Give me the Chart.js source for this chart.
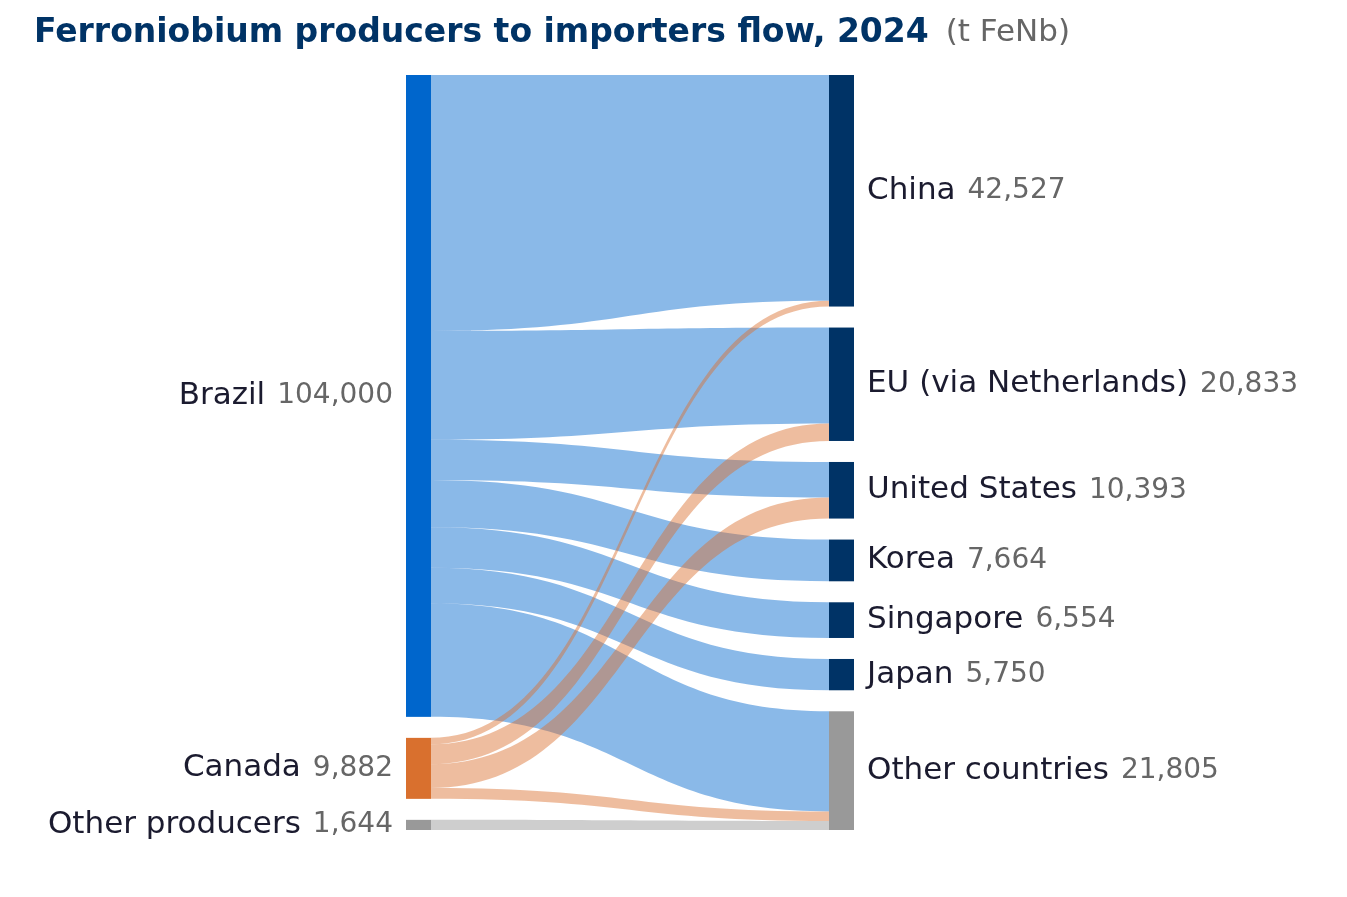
<!DOCTYPE html>
<html>
<head>
<meta charset="utf-8">
<script src="https://cdn.jsdelivr.net/npm/chart.js@4.4.1/dist/chart.umd.min.js"></script>
<style>
  body { margin: 0; background: #fff; }
</style>
</head>
<body>
<canvas id="chart" width="1347" height="897"></canvas>
<script>
const producers = ['Brazil', 'Canada', 'Other producers'];
const producerTotals = [104000, 9882, 1644];
const importers = ['China', 'EU (via Netherlands)', 'United States', 'Korea', 'Singapore', 'Japan', 'Other countries'];
const importerTotals = [42527, 20833, 10393, 7664, 6554, 5750, 21805];
// tonnes from each producer, in importer order
const fromBrazil = [41467, 17633, 6523, 7664, 6554, 5750, 18409];
const fromCanada = [1060, 3200, 3870, 0, 0, 0, 1752];
const fromOther = [0, 0, 0, 0, 0, 0, 1644];
const flows = [fromBrazil, fromCanada, fromOther];

const producerColors = ['#0066CC', '#D9702E', '#999999'];
const flowColors = ['rgba(0,102,204,0.46)', 'rgba(217,112,46,0.46)', 'rgba(153,153,153,0.48)'];
const importerColors = ['#003366', '#003366', '#003366', '#003366', '#003366', '#003366', '#999999'];

const sum = a => a.reduce((s, v) => s + v, 0);
const gapShare = 21 / 755;
const maxL = sum(producerTotals) / (1 - (producers.length - 1) * gapShare);
const maxR = sum(importerTotals) / (1 - (importers.length - 1) * gapShare);

function stackTops(totals, max) {
    const tops = [];
    let y = 0;
    totals.forEach(v => { tops.push(y); y += v + gapShare * max; });
    return tops;
}

const fmt = v => v.toLocaleString('en-US');
const labelFont = '31px "DejaVu Sans"';
const valueFont = '28px "DejaVu Sans"';

const sankeyPlugin = {
    id: 'sankey',
    afterDraw(chart) {
        const ctx = chart.ctx;
        const x = chart.scales.x, yL = chart.scales.yL, yR = chart.scales.yR;
        const nodeW = 25;
        const xL = x.getPixelForValue(0), xR = x.getPixelForValue(1);
        const topsL = stackTops(producerTotals, maxL);
        const topsR = stackTops(importerTotals, maxR);
        const outOff = topsL.slice();
        const inOff = topsR.slice();
        const x0 = xL + nodeW, x1 = xR - nodeW, mid = (x0 + x1) / 2;

        ctx.save();
        flows.forEach((row, i) => {
            row.forEach((v, j) => {
                if (!v) return;
                const a0 = yL.getPixelForValue(outOff[i]), a1 = yL.getPixelForValue(outOff[i] + v);
                const b0 = yR.getPixelForValue(inOff[j]), b1 = yR.getPixelForValue(inOff[j] + v);
                outOff[i] += v;
                inOff[j] += v;
                ctx.beginPath();
                ctx.moveTo(x0, a0);
                ctx.bezierCurveTo(mid, a0, mid, b0, x1, b0);
                ctx.lineTo(x1, b1);
                ctx.bezierCurveTo(mid, b1, mid, a1, x0, a1);
                ctx.closePath();
                ctx.fillStyle = flowColors[i];
                ctx.fill();
            });
        });

        // nodes + labels
        ctx.textBaseline = 'middle';
        producers.forEach((name, i) => {
            const t = yL.getPixelForValue(topsL[i]), b = yL.getPixelForValue(topsL[i] + producerTotals[i]);
            ctx.fillStyle = producerColors[i];
            ctx.fillRect(xL, t, nodeW, b - t);
            const cy = (t + b) / 2;
            ctx.textAlign = 'right';
            ctx.font = valueFont;
            ctx.fillStyle = '#666666';
            const val = fmt(producerTotals[i]);
            ctx.fillText(val, xL - 13, cy);
            const vw = ctx.measureText(val).width;
            ctx.font = labelFont;
            ctx.fillStyle = '#1b1b2f';
            ctx.fillText(name, xL - 13 - vw - 12, cy);
        });
        importers.forEach((name, j) => {
            const t = yR.getPixelForValue(topsR[j]), b = yR.getPixelForValue(topsR[j] + importerTotals[j]);
            ctx.fillStyle = importerColors[j];
            ctx.fillRect(xR - nodeW, t, nodeW, b - t);
            const cy = (t + b) / 2;
            ctx.textAlign = 'left';
            ctx.font = labelFont;
            ctx.fillStyle = '#1b1b2f';
            ctx.fillText(name, xR + 13, cy);
            const nw = ctx.measureText(name).width;
            ctx.font = valueFont;
            ctx.fillStyle = '#666666';
            ctx.fillText(fmt(importerTotals[j]), xR + 13 + nw + 12, cy);
        });

        // title
        ctx.textAlign = 'left';
        ctx.font = 'bold 33px "DejaVu Sans"';
        ctx.fillStyle = '#003366';
        const title = 'Ferroniobium producers to importers flow, 2024';
        ctx.fillText(title, 34, 33);
        const tw = ctx.measureText(title).width;
        ctx.font = '31px "DejaVu Sans"';
        ctx.fillStyle = '#666666';
        ctx.fillText('(t FeNb)', 34 + tw + 17, 33);
        ctx.restore();
    }
};

new Chart(document.getElementById('chart'), {
    type: 'scatter',
    data: { datasets: [] },
    options: {
        responsive: false,
        animation: false,
        layout: { padding: { left: 406, right: 493, top: 75, bottom: 67 } },
        plugins: { legend: { display: false }, tooltip: { enabled: false } },
        scales: {
            x: { type: 'linear', min: 0, max: 1, display: false },
            yL: { type: 'linear', position: 'left', min: 0, max: maxL, reverse: true, display: false },
            yR: { type: 'linear', position: 'right', min: 0, max: maxR, reverse: true, display: false }
        }
    },
    plugins: [sankeyPlugin]
});
</script>
</body>
</html>
